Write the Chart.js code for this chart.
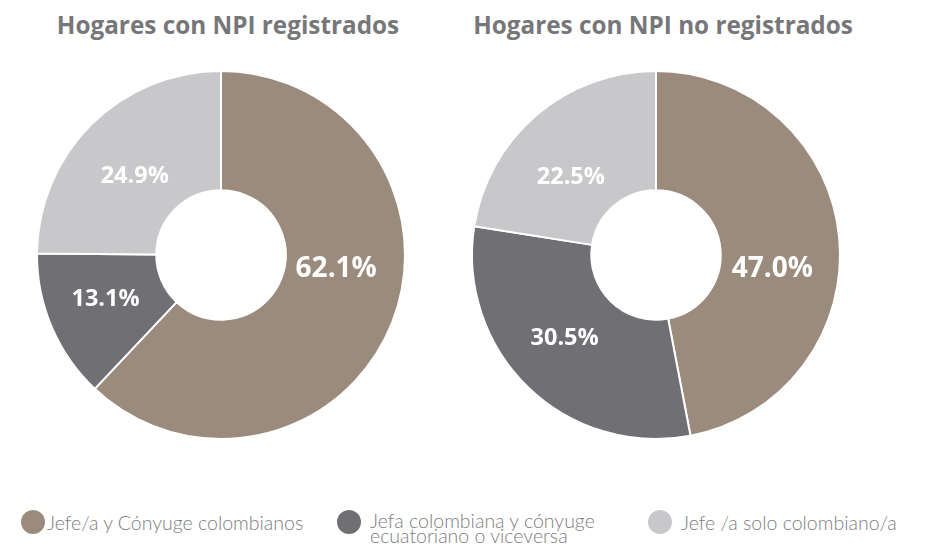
<!DOCTYPE html>
<html><head><meta charset="utf-8">
<script src="https://cdn.jsdelivr.net/npm/chart.js@4.4.0/dist/chart.umd.min.js"></script>
<style>
html,body{margin:0;padding:0;background:#fff;width:930px;height:547px;overflow:hidden;position:relative;}
.title{position:absolute;top:9px;font-family:'Open Sans',sans-serif;font-weight:700;font-size:24.3px;line-height:32px;color:#77777a;white-space:nowrap;transform:translateX(-50%);}
canvas{position:absolute;}
.leg{position:absolute;top:510px;display:flex;align-items:flex-start;}
.dot{width:24px;height:24px;border-radius:50%;flex:none;}
.lt{font-family:'Lato',sans-serif;font-weight:300;font-size:19.5px;line-height:14.5px;color:#7d7d80;padding-top:4px;white-space:nowrap;}
</style>
</head><body>
<div class="title" id="t0" style="left:228px"></div>
<div class="title" id="t1" style="left:663px"></div>
<canvas id="c0" width="400" height="400" style="left:21px;top:55px"></canvas>
<canvas id="c1" width="400" height="400" style="left:456px;top:55px"></canvas>
<div id="legend"></div>
<script>
// ---- data ----
const categories = [
  ['Jefe/a y Cónyuge colombianos'],
  ['Jefa colombiana y cónyuge', 'ecuatoriano o viceversa'],
  ['Jefe /a solo colombiano/a']
];
const chartTitles = ['Hogares con NPI registrados', 'Hogares con NPI no registrados'];
const registrados = [62.1, 13.1, 24.9];
const noRegistrados = [47.0, 30.5, 22.5];

// ---- style ----
const colors = ['#9a8b7d', '#706f74', '#c8c8ca'];
const legendX = [21, 337, 648];
const legendGap = [2, 9, 9];

const sliceLabels = {
  id: 'sliceLabels',
  afterDatasetsDraw(chart, args, opts) {
    const ctx = chart.ctx;
    const meta = chart.getDatasetMeta(0);
    const data = chart.data.datasets[0].data;
    const maxV = Math.max(...data);
    meta.data.forEach((arc, i) => {
      const p = arc.getProps(['x','y','startAngle','endAngle','innerRadius','outerRadius'], true);
      const a = (p.startAngle + p.endAngle) / 2 + ((opts.angleOffsets && opts.angleOffsets[i]) || 0) * Math.PI / 180;
      const r = p.innerRadius + (p.outerRadius - p.innerRadius) * (opts.radial ? opts.radial[i] : 0.45);
      const x = p.x + Math.cos(a) * r, y = p.y + Math.sin(a) * r;
      ctx.save();
      ctx.font = '700 ' + (data[i] === maxV ? 28 : 23.5) + 'px "Open Sans"';
      ctx.fillStyle = '#ffffff';
      ctx.textAlign = 'center';
      ctx.textBaseline = 'middle';
      ctx.fillText(data[i].toFixed(1) + '%', x, y + 1);
      ctx.restore();
    });
  }
};

function makeChart(id, values, offsets, radial) {
  return new Chart(document.getElementById(id), {
    type: 'doughnut',
    data: {
      labels: categories,
      datasets: [{
        data: values,
        backgroundColor: colors,
        borderColor: '#ffffff',
        borderWidth: 2,
        hoverOffset: 0
      }]
    },
    options: {
      responsive: false,
      animation: false,
      events: [],
      radius: 184,
      cutout: 70,
      layout: { padding: 0 },
      plugins: {
        legend: { display: false },
        tooltip: { enabled: false },
        title: { display: false },
        sliceLabels: { angleOffsets: offsets, radial: radial }
      }
    },
    plugins: [sliceLabels]
  });
}

document.getElementById('t0').textContent = chartTitles[0];
document.getElementById('t1').textContent = chartTitles[1];

const leg = document.getElementById('legend');
categories.forEach((lines, i) => {
  const d = document.createElement('div');
  d.className = 'leg';
  d.style.left = legendX[i] + 'px';
  const dot = document.createElement('div');
  dot.className = 'dot';
  dot.style.background = colors[i];
  dot.style.marginRight = legendGap[i] + 'px';
  const t = document.createElement('div');
  t.className = 'lt';
  t.innerHTML = lines.join('<br>');
  if (lines.length === 1) t.style.paddingTop = '6px';
  d.appendChild(dot); d.appendChild(t);
  leg.appendChild(d);
});

const draw = () => {
  makeChart('c0', registrados, [-15, 2.7, -2.6], [0.43, 0.49, 0.44]);
  makeChart('c1', noRegistrados, [12, 3.8, -6.7], [0.44, 0.49, 0.43]);
};
if (document.fonts && document.fonts.load) {
  Promise.all([document.fonts.load('700 26px "Open Sans"'), document.fonts.load('300 19px Lato'), document.fonts.load('700 24px "Open Sans"')]).then(draw, draw);
} else draw();
</script>
</body></html>
